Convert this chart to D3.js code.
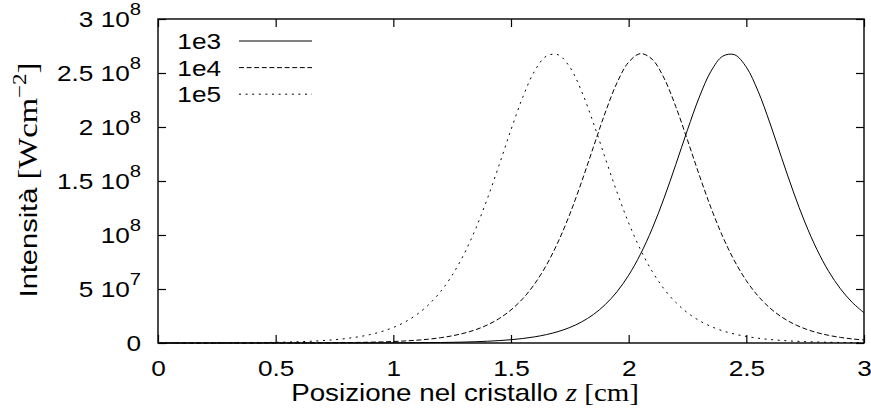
<!DOCTYPE html>
<html>
<head>
<meta charset="utf-8">
<script src="https://cdn.jsdelivr.net/npm/d3@7/dist/d3.min.js"></script>
<style>
  html, body { margin: 0; padding: 0; background: #fff; }
  svg { display: block; }
</style>
</head>
<body>
<svg id="chart" width="871" height="419"></svg>
<script>
// Position along the crystal, z [cm]
const zPos = [
  0.00, 0.05, 0.10, 0.15, 0.20, 0.25, 0.30, 0.35, 0.40, 0.45,
  0.50, 0.55, 0.60, 0.65, 0.70, 0.75, 0.80, 0.85, 0.90, 0.95,
  1.00, 1.05, 1.10, 1.15, 1.20, 1.25, 1.30, 1.35, 1.40, 1.45,
  1.50, 1.55, 1.60, 1.65, 1.70, 1.75, 1.80, 1.85, 1.90, 1.95,
  2.00, 2.05, 2.10, 2.15, 2.20, 2.25, 2.30, 2.35, 2.40, 2.45,
  2.50, 2.55, 2.60, 2.65, 2.70, 2.75, 2.80, 2.85, 2.90, 2.95,
  3.00
];

// Intensity [W cm^-2] for each case
const int1e3 = [
  240, 330, 450, 620, 850, 1200, 1600, 2200, 3000, 4100,
  5600, 7600, 10500, 14000, 20000, 27000, 37000, 51000, 70000, 96000,
  1.31e5, 1.80e5, 2.46e5, 3.37e5, 4.62e5, 6.33e5, 8.66e5, 1.187e6, 1.625e6, 2.224e6,
  3.042e6, 4.160e6, 5.684e6, 7.758e6, 1.057e7, 1.438e7, 1.951e7, 2.637e7, 3.547e7, 4.739e7,
  6.276e7, 8.216e7, 1.059e8, 1.339e8, 1.651e8, 1.974e8, 2.276e8, 2.517e8, 2.656e8, 2.669e8,
  2.554e8, 2.331e8, 2.038e8, 1.715e8, 1.399e8, 1.112e8, 8.655e7, 6.630e7, 5.017e7, 3.760e7,
  2.799e7
];

const int1e4 = [
  2600, 3500, 4800, 6600, 9000, 12000, 17000, 23000, 32000, 44000,
  60000, 82000, 1.12e5, 1.53e5, 2.10e5, 2.88e5, 3.94e5, 5.40e5, 7.40e5, 1.014e6,
  1.389e6, 1.901e6, 2.601e6, 3.558e6, 4.863e6, 6.641e6, 9.058e6, 1.233e7, 1.676e7, 2.269e7,
  3.060e7, 4.104e7, 5.460e7, 7.193e7, 9.348e7, 1.194e8, 1.492e8, 1.813e8, 2.130e8, 2.407e8,
  2.601e8, 2.679e8, 2.627e8, 2.454e8, 2.190e8, 1.878e8, 1.555e8, 1.251e8, 9.832e7, 7.589e7,
  5.775e7, 4.348e7, 3.247e7, 2.410e7, 1.781e7, 1.312e7, 9.636e6, 7.067e6, 5.176e6, 3.788e6,
  2.770e6
];

const int1e5 = [
  27000, 37000, 51000, 70000, 96000, 1.31e5, 1.80e5, 2.46e5, 3.37e5, 4.62e5,
  6.33e5, 8.66e5, 1.187e6, 1.625e6, 2.224e6, 3.042e6, 4.160e6, 5.684e6, 7.758e6, 1.057e7,
  1.438e7, 1.951e7, 2.637e7, 3.547e7, 4.739e7, 6.276e7, 8.216e7, 1.059e8, 1.339e8, 1.651e8,
  1.974e8, 2.276e8, 2.517e8, 2.656e8, 2.669e8, 2.554e8, 2.331e8, 2.038e8, 1.715e8, 1.399e8,
  1.112e8, 8.655e7, 6.630e7, 5.017e7, 3.760e7, 2.799e7, 2.073e7, 1.529e7, 1.125e7, 8.254e6,
  6.049e6, 4.428e6, 3.240e6, 2.368e6, 1.730e6, 1.264e6, 9.23e5, 6.74e5, 4.92e5, 3.59e5,
  2.62e5
];

const seriesNames = ["1e3", "1e4", "1e5"];

// Axis ticks
const xTicks = [0, 0.5, 1, 1.5, 2, 2.5, 3];
const xTickLabels = ["0", "0.5", "1", "1.5", "2", "2.5", "3"];
const yTicks = [0, 5e7, 1e8, 1.5e8, 2e8, 2.5e8, 3e8];
const yTickMantissa = ["0", "5 ", "", "1.5 ", "2 ", "2.5 ", "3 "];
const yTickExponent = ["", "7", "8", "8", "8", "8", "8"];

// ---- layout & styling ----
const frame = { left: 158, right: 864, top: 19, bottom: 343 };
const dashStyles = [null, "5,2.6", "2,4.6"];
const sansFont = "'Liberation Sans', Arial, Helvetica, sans-serif";
const serifFont = "'Liberation Serif', 'DejaVu Serif', serif";
const textStretch = 1.19;   // wide lettering of the labels
const tickLen = 8;

const svg = d3.select("#chart");

const x = d3.scaleLinear().domain([0, 3]).range([frame.left, frame.right]);
const y = d3.scaleLinear().domain([0, 3e8]).range([frame.bottom, frame.top]);

// Bottom axis with labels (ticks pointing inward)
const gx = svg.append("g")
  .attr("transform", `translate(0,${frame.bottom})`)
  .call(d3.axisBottom(x)
    .tickValues(xTicks)
    .tickFormat((d, i) => xTickLabels[i])
    .tickSizeInner(-tickLen)
    .tickSizeOuter(0)
    .tickPadding(17));

// Top mirror ticks
svg.append("g")
  .attr("transform", `translate(0,${frame.top})`)
  .call(d3.axisTop(x).tickValues(xTicks).tickFormat("")
    .tickSizeInner(-tickLen).tickSizeOuter(0));

// Left axis (labels added below)
const gy = svg.append("g")
  .attr("transform", `translate(${frame.left},0)`)
  .call(d3.axisLeft(y)
    .tickValues(yTicks)
    .tickFormat("")
    .tickSizeInner(-tickLen)
    .tickSizeOuter(0));

// Right mirror ticks
svg.append("g")
  .attr("transform", `translate(${frame.right},0)`)
  .call(d3.axisRight(y).tickValues(yTicks).tickFormat("")
    .tickSizeInner(-tickLen).tickSizeOuter(0));

svg.selectAll(".domain").remove();
svg.selectAll(".tick line").attr("stroke", "#000").attr("stroke-width", 1.2);

gx.selectAll(".tick text")
  .attr("font-family", sansFont)
  .attr("font-size", 22)
  .attr("fill", "#000")
  .attr("transform", `scale(${textStretch},1)`);

// y tick labels written as "m 10^e"
gy.selectAll(".tick").each(function (d, i) {
  const t = d3.select(this).select("text")
    .attr("x", 0)
    .attr("font-family", sansFont)
    .attr("font-size", 22)
    .attr("fill", "#000")
    .attr("text-anchor", "end")
    .attr("dy", "0.36em")
    .attr("transform", `translate(-17,0) scale(${textStretch},1)`)
    .text(null);
  if (yTickExponent[i] === "") {
    t.append("tspan").text(yTickMantissa[i]);
  } else {
    t.append("tspan").text(yTickMantissa[i] + "10");
    t.append("tspan")
      .attr("font-size", 17)
      .attr("dy", -12)
      .text(yTickExponent[i]);
  }
});

// Plot frame
svg.append("rect")
  .attr("x", frame.left).attr("y", frame.top)
  .attr("width", frame.right - frame.left)
  .attr("height", frame.bottom - frame.top)
  .attr("fill", "none")
  .attr("stroke", "#000")
  .attr("stroke-width", 1.4);

// Curves
const allSeries = [int1e3, int1e4, int1e5];
const line = d3.line()
  .x((d, i) => x(zPos[i]))
  .y(d => y(d))
  .curve(d3.curveCatmullRom.alpha(0.5));

const plot = svg.append("g");
allSeries.forEach((vals, k) => {
  plot.append("path")
    .datum(vals)
    .attr("d", line)
    .attr("fill", "none")
    .attr("stroke", "#000")
    .attr("stroke-width", 1)
    .attr("stroke-dasharray", dashStyles[k]);
});

// Legend
const legend = svg.append("g");
seriesNames.forEach((name, k) => {
  const rowY = 41 + k * 26.6;
  legend.append("text")
    .attr("transform", `translate(221,${rowY}) scale(${textStretch},1)`)
    .attr("dy", "0.36em")
    .attr("text-anchor", "end")
    .attr("font-family", sansFont)
    .attr("font-size", 22)
    .text(name);
  legend.append("line")
    .attr("x1", 239).attr("x2", 312)
    .attr("y1", rowY).attr("y2", rowY)
    .attr("stroke", "#000")
    .attr("stroke-width", 1)
    .attr("stroke-dasharray", dashStyles[k]);
});

// Stretch a title along its reading direction to a given length
function fitLength(sel, length) {
  const w = sel.node().getBBox().width;
  return length / w;
}

// x-axis title
const xTitleG = svg.append("g");
const xTitle = xTitleG.append("text")
  .attr("text-anchor", "middle")
  .attr("font-size", 24)
  .attr("fill", "#000");
xTitle.append("tspan").attr("font-family", sansFont).text("Posizione nel cristallo ");
xTitle.append("tspan").attr("font-family", serifFont).attr("font-style", "italic")
  .attr("font-size", 25).text("z");
xTitle.append("tspan").attr("font-family", serifFont).attr("font-size", 25).text(" [cm]");
xTitleG.attr("transform", `translate(465,401) scale(${fitLength(xTitle, 348)},1)`);

// y-axis title
const yTitleG = svg.append("g");
const yTitle = yTitleG.append("text")
  .attr("text-anchor", "middle")
  .attr("font-size", 24)
  .attr("fill", "#000");
yTitle.append("tspan").attr("font-family", sansFont).text("Intensità ");
yTitle.append("tspan").attr("font-family", serifFont).attr("font-size", 27).text("[Wcm");
yTitle.append("tspan").attr("font-family", serifFont).attr("font-size", 19).attr("dy", -11).text("−2");
yTitle.append("tspan").attr("font-family", serifFont).attr("font-size", 27).attr("dy", 11).text("]");
yTitleG.attr("transform", `translate(37,180) rotate(-90) scale(${fitLength(yTitle, 235)},1)`);
</script>
</body>
</html>
